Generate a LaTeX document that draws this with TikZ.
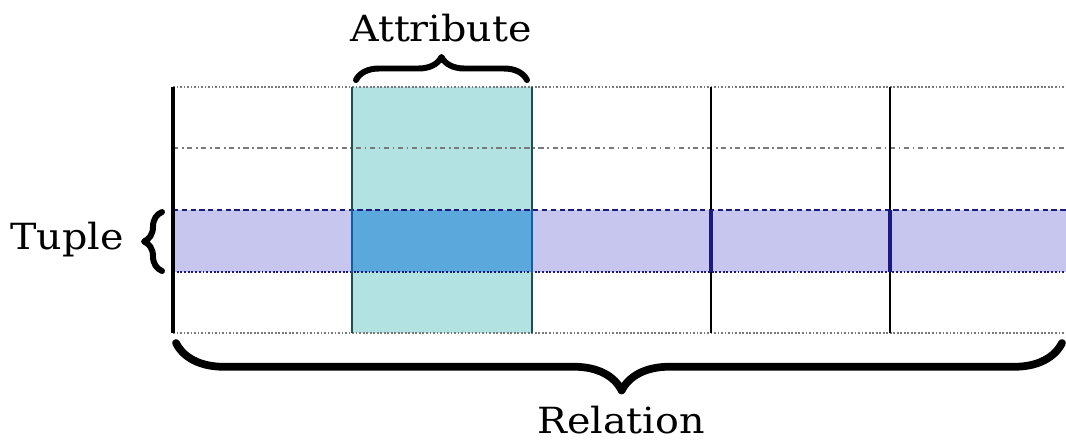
\documentclass[tikz,border=0pt]{standalone}
\usepackage{fontspec}
\newfontfamily\lblfont{DejaVu Serif}
\usetikzlibrary{decorations.pathreplacing}
\definecolor{attrcol}{HTML}{B2E2E2}
\definecolor{tuplecol}{HTML}{C6C6EE}
\definecolor{bothcol}{HTML}{5AA8DC}
\definecolor{gridgray}{HTML}{7A7A7A}
\definecolor{tealline}{HTML}{1F4F4F}
\definecolor{tupleedge}{HTML}{1A1A80}
\tikzset{
  lbl/.style={font=\lblfont\fontsize{20.5}{24}\selectfont, xscale=1.1, inner sep=0pt},
  hline/.style={gridgray, line width=1.0pt, densely dotted},
  vthick/.style={black, line width=2.0pt},
  vteal/.style={tealline, line width=1.3pt},
  vblack/.style={black, line width=1.6pt},
  bracestyle/.style={decorate, line width=#1, line cap=round, line join=round},
}
\begin{document}
\begin{tikzpicture}[x=0.02cm, y=-0.02cm]
\useasboundingbox (0,0) rectangle (1066,443);
% key coordinates
\coordinate (tl) at (173,87);
\coordinate (br) at (1066,333);
% fills
\fill[attrcol] (352,87) rectangle (532,333);
\fill[tuplecol] (173,210) rectangle (1066,272);
\fill[bothcol] (352,210) rectangle (532,272);
% horizontal lines
\draw[hline] (173,87) -- (1066,87);
\draw[gridgray, line width=1.0pt, dash dot] (173,148) -- (1066,148);
\draw[hline] (173,333) -- (1066,333);
\draw[tupleedge, line width=1.1pt, densely dashed] (173,210) -- (1066,210);
\draw[tupleedge, line width=1.1pt, densely dotted] (173,272) -- (1066,272);
% vertical lines
\draw[vthick] (173,87) -- (173,333);
\draw[vteal] (352,87) -- (352,333);
\draw[vteal] (532,87) -- (532,333);
\draw[vblack] (711,87) -- (711,333);
\draw[vblack] (890,87) -- (890,333);
\draw[tupleedge, line width=2pt] (711,210) -- (711,272);
\draw[tupleedge, line width=2pt] (890,210) -- (890,272);
\draw[tupleedge!70!cyan, line width=1.5pt] (352,210) -- (352,272);
\draw[tupleedge!70!cyan, line width=1.5pt] (532,210) -- (532,272);
% braces
\coordinate (abL) at (356,80);
\coordinate (abR) at (527,80);
\coordinate (tbB) at (162,271);
\coordinate (tbT) at (162,212);
\coordinate (rbL) at (176,343);
\coordinate (rbR) at (1062,343);
\draw[bracestyle=3.4pt, decoration={brace, amplitude=0.46cm}] (abL) -- (abR);
\draw[bracestyle=3.4pt, decoration={brace, amplitude=0.36cm}] (tbB) -- (tbT);
\draw[bracestyle=4.4pt, decoration={brace, mirror, amplitude=0.95cm, aspect=0.503}] (rbL) -- (rbR);
% labels
\node[lbl] (attr) at (441,28) {Attribute};
\node[lbl] (tuple) at (67,240) {Tuple};
\node[lbl] (rel) at (621,420) {Relation};
\end{tikzpicture}
\end{document}
